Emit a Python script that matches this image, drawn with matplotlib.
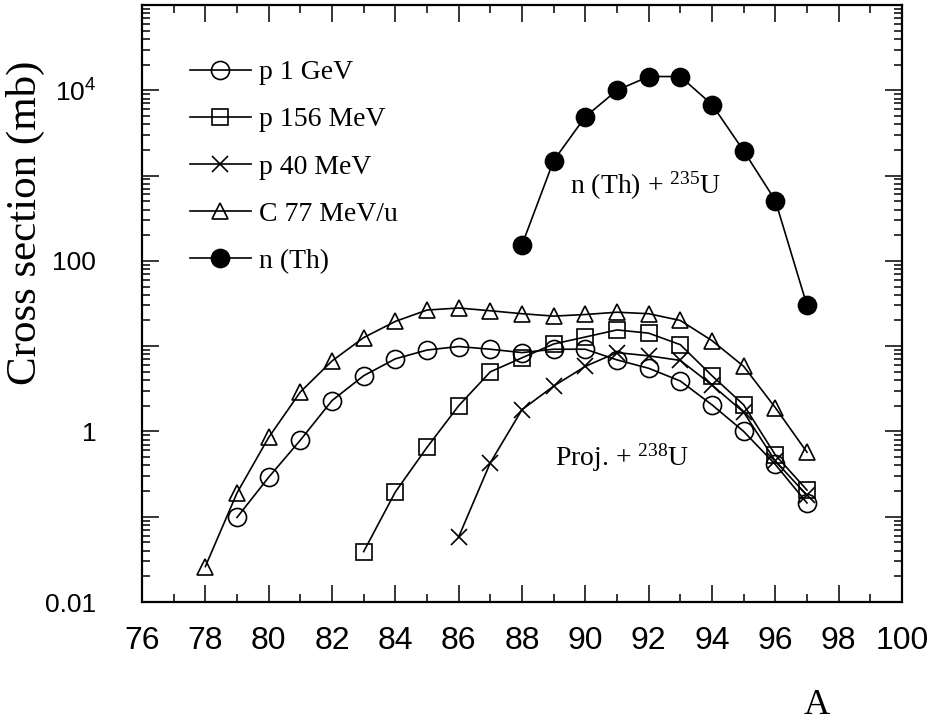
import matplotlib
matplotlib.use("Agg")
import matplotlib.pyplot as plt
import numpy as np
from matplotlib.ticker import MultipleLocator, LogLocator, NullFormatter

# Mass number A and cross sections (mb), Proj. + 238U and n(Th) + 235U
A_C77 = list(range(78, 98))
XS_C77 = [0.026, 0.19, 0.85, 2.9, 6.7, 12.6, 19.5, 26.5, 28, 26,
          24, 22.5, 23.5, 25, 24, 20, 11.6, 5.8, 1.9, 0.57]

A_P1GEV = list(range(79, 98))
XS_P1GEV = [0.098, 0.29, 0.79, 2.3, 4.5, 7.1, 9.0, 9.9, 9.2, 8.4,
            9.2, 9.2, 6.9, 5.5, 3.9, 2.05, 1.0, 0.41, 0.145]

A_P156 = list(range(83, 98))
XS_P156 = [0.039, 0.195, 0.65, 2.0, 5.0, 7.3, 10.6, 12.8, 15.5, 14.2,
           10.4, 4.5, 2.05, 0.53, 0.205]

A_P40 = list(range(86, 98))
XS_P40 = [0.058, 0.43, 1.8, 3.4, 5.8, 8.4, 7.7, 6.8, 3.5, 1.68, 0.45, 0.178]

A_NTH = list(range(88, 98))
XS_NTH = [154, 1500, 4900, 10000, 14500, 14500, 6800, 1950, 510, 30]

YTICKS = [0.01, 0.1, 1, 10, 100, 1000, 1e4, 1e5]
YTICK_LABELS = ["0.01", "", "1", "", "100", "", r"$\mathregular{10^4}$", ""]
XTICKS = list(range(76, 101, 2))

SERIF = ["Liberation Serif", "DejaVu Serif"]
SANS = ["Liberation Sans", "DejaVu Sans"]

plt.rcParams["font.family"] = SERIF

fig = plt.figure(figsize=(9.38, 7.24), dpi=100)
ax = fig.add_axes([142/938, 1 - 602/724, 760/938, 597/724])

kw = dict(color="black", lw=1.2, mew=1.2)
ax.plot(A_P1GEV, XS_P1GEV, marker="o", ms=13, mfc="none", label="p 1 GeV", **kw)
ax.plot(A_P156, XS_P156, marker="s", ms=11, mfc="none", label="p 156 MeV", **kw)
ax.plot(A_P40, XS_P40, marker="x", ms=12, label="p 40 MeV", **kw)
ax.plot(A_C77, XS_C77, marker="^", ms=12, mfc="none", label="C 77 MeV/u", **kw)
ax.plot(A_NTH, XS_NTH, marker="o", ms=13, mfc="black", label="n (Th)", **kw)

ax.set_yscale("log")
ax.set_xlim(76, 100)
ax.set_ylim(0.01, 1e5)

ax.set_xticks(XTICKS)
ax.xaxis.set_minor_locator(MultipleLocator(1))
ax.set_yticks(YTICKS, YTICK_LABELS)
ax.yaxis.set_minor_locator(LogLocator(base=10, subs=np.arange(2, 10), numticks=100))
ax.yaxis.set_minor_formatter(NullFormatter())

ax.tick_params(which="both", direction="in", top=True, right=True, width=1.1)
ax.tick_params(which="major", length=12)
ax.tick_params(which="minor", length=6)
ax.tick_params(axis="y", which="major", pad=33)
ax.tick_params(axis="x", which="major", pad=17)
for lab in ax.get_xticklabels():
    lab.set_family(SANS)
    lab.set_fontsize(23)
for lab in ax.get_yticklabels():
    lab.set_family(SANS)
    lab.set_fontsize(19)
for sp in ax.spines.values():
    sp.set_linewidth(1.6)

ax.set_ylabel("Cross section (mb)", fontsize=31)
ax.yaxis.set_label_coords(-0.127, 0.635)
ax.set_xlabel("A", fontsize=26)
ax.xaxis.set_label_coords(0.888, -0.145)

ax.text(89.5, 760, r"n (Th) + $\mathregular{^{235}}$U", fontsize=20, ha="left", va="center")
ax.text(89.05, 0.49, r"Proj. + $\mathregular{^{238}}$U", fontsize=20, ha="left", va="center")

ax.legend(loc="upper left", bbox_to_anchor=(0.063, 0.908), frameon=False,
          fontsize=20, handlelength=2.2, handletextpad=0.3, labelspacing=0.78,
          borderpad=0, borderaxespad=0)

fig.savefig("out.png", dpi=100)
